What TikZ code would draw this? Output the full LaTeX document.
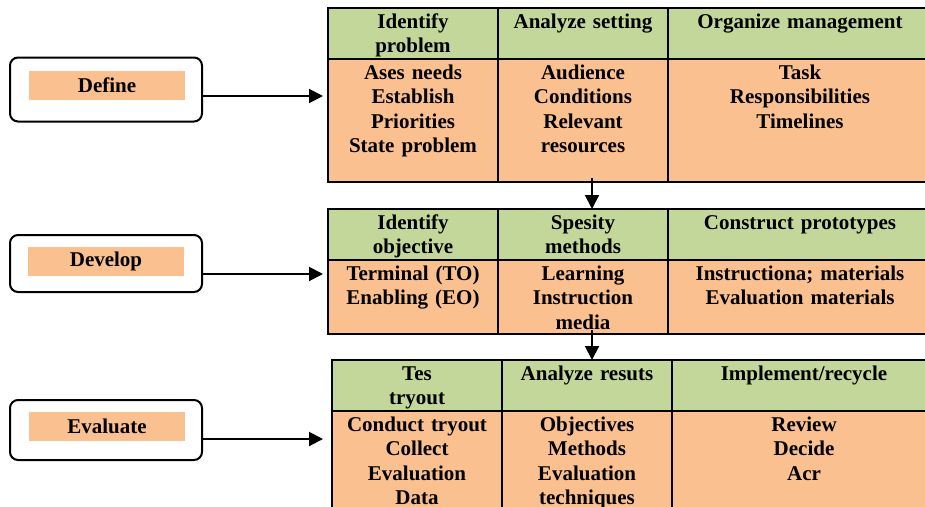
\documentclass[tikz,border=0pt]{standalone}
\usepackage{fontspec}
\setmainfont{Liberation Serif}
\usetikzlibrary{arrows.meta, positioning}
\definecolor{hdrgreen}{HTML}{C4D79B}
\definecolor{cellorange}{HTML}{FAC090}

\begin{document}
\begin{tikzpicture}[x=1pt, y=-1pt, >={Triangle[length=14pt, width=14pt]},
    every node/.style={font=\fontsize{21}{24.5}\selectfont\bfseries},
    cell/.style={draw, line width=2pt, inner sep=0pt, outer sep=0pt, align=center, text height=20pt},
    hdr/.style={cell, fill=hdrgreen, text depth=31pt},
    bdy/.style={cell, fill=cellorange},
    phase/.style={draw, line width=2pt, rounded corners=8pt, minimum width=192pt},
    tag/.style={fill=cellorange, minimum width=156pt, minimum height=29pt, inner sep=0pt},
    flow/.style={->, line width=2pt}]
    \clip (0,0) rectangle (925,506);

    % phases on the left
    \node[phase, minimum height=64pt] (define) at (106,89.5) {};
    \node[tag] (definetag) at (107,85.5) {Define};
    \node[phase, minimum height=57pt] (develop) at (106,263.5) {};
    \node[tag] (developtag) at (106,261.2) {Develop};
    \node[phase, minimum height=60pt] (evaluate) at (106,430) {};
    \node[tag] (evaluatetag) at (107,426.2) {Evaluate};

    % define table
    \node[hdr, text width=170pt, anchor=north west] (idprob) at (328,8) {Identify\\problem};
    \node[hdr, text width=170pt, right=0pt of idprob] (setting) {Analyze setting};
    \node[hdr, text width=264pt, right=0pt of setting] (manage) {Organize management};
    \node[bdy, text depth=103pt, text width=170pt, below=0pt of idprob] (needs) {Ases needs\\Establish\\Priorities\\State problem};
    \node[bdy, text depth=103pt, text width=170pt, below=0pt of setting] (audience) {Audience\\Conditions\\Relevant\\resources};
    \node[bdy, text depth=103pt, text width=264pt, below=0pt of manage] (tasks) {Task\\Responsibilities\\Timelines};

    % develop table
    \node[hdr, text width=170pt, anchor=north west] (idobj) at (328,209) {Identify\\objective};
    \node[hdr, text width=170pt, right=0pt of idobj] (methods) {Spesity\\methods};
    \node[hdr, text width=264pt, right=0pt of methods] (proto) {Construct prototypes};
    \node[bdy, text depth=54pt, text width=170pt, below=0pt of idobj] (objtype) {Terminal (TO)\\Enabling (EO)};
    \node[bdy, text depth=54pt, text width=170pt, below=0pt of methods] (media) {Learning\\Instruction\\media};
    \node[bdy, text depth=54pt, text width=264pt, below=0pt of proto] (materials) {Instructiona; materials\\Evaluation materials};

    % evaluate table
    \node[hdr, text width=170pt, anchor=north west] (tryout) at (332,360) {Tes\\tryout};
    \node[hdr, text width=170pt, right=0pt of tryout] (results) {Analyze resuts};
    \node[hdr, text width=264pt, right=0pt of results] (recycle) {Implement/recycle};
    \node[bdy, text depth=110pt, text width=170pt, below=0pt of tryout] (collect) {Conduct tryout\\Collect\\Evaluation\\Data};
    \node[bdy, text depth=110pt, text width=170pt, below=0pt of results] (analysis) {Objectives\\Methods\\Evaluation\\techniques};
    \node[bdy, text depth=110pt, text width=264pt, below=0pt of recycle] (decide) {Review\\Decide\\Acr};

    % arrows
    \coordinate (in1) at (323,96);
    \coordinate (in2) at (323,274);
    \coordinate (in3) at (323,439);
    \draw[flow] (define.east |- in1) -- (in1);
    \draw[flow] (develop.east |- in2) -- (in2);
    \draw[flow] (evaluate.east |- in3) -- (in3);
    \coordinate (dn1) at (592,178);
    \coordinate (dn2) at (592,330);
    \draw[flow] (dn1) -- (dn1 |- methods.north);
    \draw[flow] (dn2) -- (dn2 |- results.north);
\end{tikzpicture}
\end{document}
